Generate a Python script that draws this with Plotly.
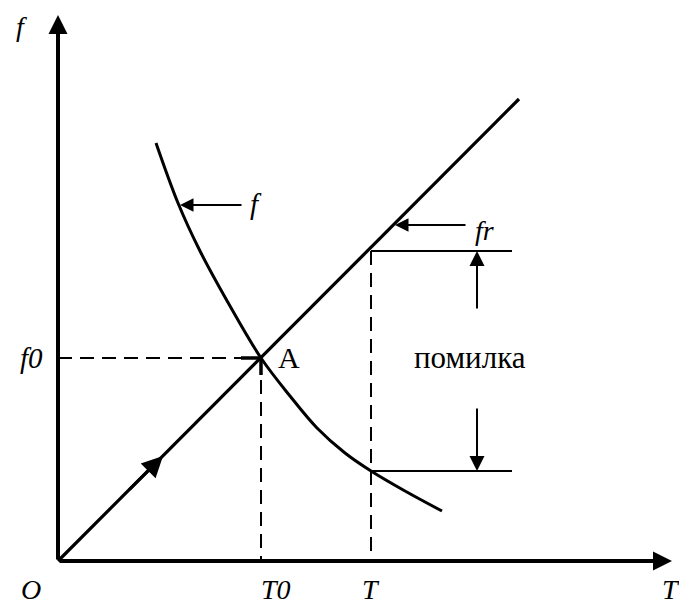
import plotly.graph_objects as go

# ---- data (diagram units, origin O at 0,0) ----
fr_T = [0, 461]
fr_f = [0, 462]
curve_T = [98, 120, 142, 172, 203, 232, 259, 287, 313, 347, 384]
curve_f = [418, 358, 310, 255, 203, 165, 133, 108, 90, 70, 50]
T0_val = 203
f0_val = 203
T_val = 313
fr_at_T = 310
f_at_T = 90
err_end_T = 454
err_arrow_T = 419
axis_T_max = 614
axis_f_max = 546

FONT = "Liberation Serif, Times New Roman, serif"
BLACK = "black"

fig = go.Figure()

fig.add_trace(go.Scatter(x=fr_T, y=fr_f, mode="lines",
                         line=dict(color=BLACK, width=3.2), hoverinfo="skip"))
fig.add_trace(go.Scatter(x=curve_T, y=curve_f, mode="lines",
                         line=dict(color=BLACK, width=3, shape="spline", smoothing=1.0),
                         hoverinfo="skip"))
fig.add_trace(go.Scatter(x=[0, T0_val], y=[f0_val, f0_val], mode="lines",
                         line=dict(color=BLACK, width=2, dash="14px,8px"), hoverinfo="skip"))
fig.add_trace(go.Scatter(x=[T0_val, T0_val], y=[f0_val, 0], mode="lines",
                         line=dict(color=BLACK, width=2, dash="14px,8px"), hoverinfo="skip"))
fig.add_trace(go.Scatter(x=[T_val, T_val], y=[fr_at_T, 0], mode="lines",
                         line=dict(color=BLACK, width=2, dash="14px,8px"), hoverinfo="skip"))
# bold stubs at point A
fig.add_trace(go.Scatter(x=[T0_val, T0_val], y=[f0_val, f0_val - 17], mode="lines",
                         line=dict(color=BLACK, width=3.5), hoverinfo="skip"))
fig.add_trace(go.Scatter(x=[T0_val - 20, T0_val], y=[f0_val, f0_val], mode="lines",
                         line=dict(color=BLACK, width=3.5), hoverinfo="skip"))
fig.add_trace(go.Scatter(x=[T_val, err_end_T], y=[fr_at_T, fr_at_T], mode="lines",
                         line=dict(color=BLACK, width=2), hoverinfo="skip"))
fig.add_trace(go.Scatter(x=[T_val, err_end_T], y=[f_at_T, f_at_T], mode="lines",
                         line=dict(color=BLACK, width=2), hoverinfo="skip"))

def arrow(x, y, ax, ay, w, s):
    fig.add_annotation(x=x, y=y, ax=ax, ay=ay, xref="x", yref="y", axref="x", ayref="y",
                       text="", showarrow=True, arrowhead=2, arrowwidth=w, arrowsize=s,
                       arrowcolor=BLACK, standoff=0)

arrow(0, axis_f_max, 0, 0, 4, 0.95)
arrow(axis_T_max, 0, 0, 0, 4, 0.95)
arrow(122, 356, 185, 356, 2, 1.35)
arrow(337, 336, 409, 336, 2, 1.35)
arrow(err_arrow_T, fr_at_T, err_arrow_T, 251, 2, 1.5)
arrow(err_arrow_T, f_at_T, err_arrow_T, 154, 2, 1.5)
arrow(105, 105, 70, 70, 3, 1.4)

def label(x, y, text, size=29, italic=True):
    fig.add_annotation(x=x, y=y, xref="x", yref="y", text=text, showarrow=False,
                       font=dict(family=FONT, size=size, color=BLACK,
                                 style="italic" if italic else "normal"),
                       xanchor="center", yanchor="middle", borderpad=0)

label(-37, 535, "f", 28)
label(-27, 203, "f0")
label(231, 204, "A", 30, italic=False)
label(412, 204, "помилка", 31, italic=False)
label(198, 357, "f")
label(426, 331, "fr", 28)
label(-27, -28, "O", 28)
label(218, -28, "T0", 28)
label(313, -28, "T", 28)
label(613, -28, "T", 28)

# page body has an 8px margin: keep 1 unit = 1 px and origin at page pixel (58, 561)
fig.update_layout(
    width=679, height=598,
    margin=dict(l=0, r=0, t=0, b=0),
    paper_bgcolor="white", plot_bgcolor="white",
    showlegend=False,
    xaxis=dict(range=[-50, 629], visible=False, fixedrange=True),
    yaxis=dict(range=[-45, 553], visible=False, fixedrange=True),
)

fig.write_html("out.html")
